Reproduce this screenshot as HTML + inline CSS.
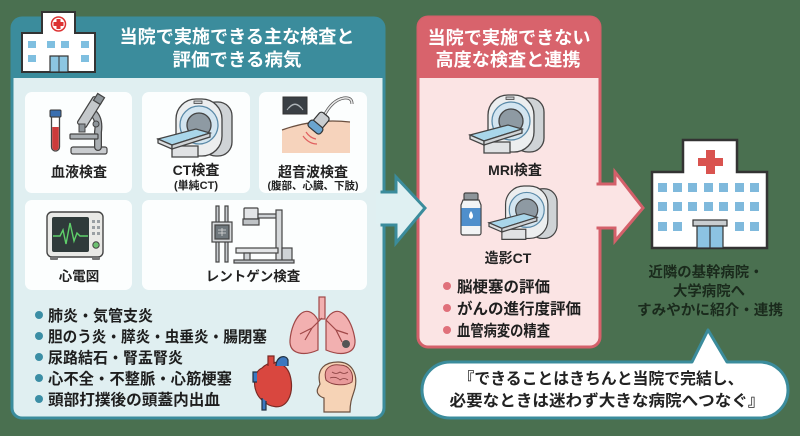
<!DOCTYPE html>
<html><head><meta charset="utf-8">
<style>
html,body{margin:0;padding:0;background:#4a7050;}
svg{display:block}
text{font-family:"Liberation Sans","Noto Sans CJK JP",sans-serif;font-weight:bold;}
</style></head>
<body>
<svg width="800" height="436" viewBox="0 0 800 436" xmlns="http://www.w3.org/2000/svg">
<rect width="800" height="436" fill="#4a7050"/>

<!-- ===== LEFT PANEL ===== -->
<rect x="12" y="18" width="372" height="400" rx="10" fill="#e0eff1" stroke="#3b8c9c" stroke-width="3"/>
<path d="M12,78 V28 a10,10 0 0 1 10,-10 H374 a10,10 0 0 1 10,10 V78 Z" fill="#3b8c9c"/>
<text x="237" y="43" text-anchor="middle" font-size="18" fill="#fff" textLength="235" lengthAdjust="spacingAndGlyphs">当院で実施できる主な検査と</text>
<text x="237" y="66" text-anchor="middle" font-size="18" fill="#fff" textLength="129" lengthAdjust="spacingAndGlyphs">評価できる病気</text>

<!-- hospital icon left -->
<path d="M22,33 H42 V12 H75 V33 H95 V72 H22 Z" fill="#fff" stroke="#333" stroke-width="2"/>
<circle cx="58.5" cy="24" r="7" fill="#fff" stroke="#d33" stroke-width="1.5"/>
<rect x="56.5" y="19" width="4" height="10" fill="#d33"/>
<rect x="53.5" y="22" width="10" height="4" fill="#d33"/>
<g fill="#7fbfe0">
<rect x="28" y="41" width="8" height="7"/><rect x="47" y="41" width="8" height="7"/><rect x="61" y="41" width="8" height="7"/><rect x="81" y="41" width="8" height="7"/>
<rect x="28" y="55" width="8" height="7"/><rect x="81" y="55" width="8" height="7"/>
<rect x="50" y="56" width="18" height="16" fill="#8cc6e2" stroke="#333" stroke-width="1.2"/>
</g>
<line x1="59" y1="56" x2="59" y2="72" stroke="#333" stroke-width="1"/>

<!-- cards -->
<rect x="25" y="92" width="107" height="101" rx="7" fill="#fcfefe"/>
<rect x="142" y="92" width="108" height="101" rx="7" fill="#fcfefe"/>
<rect x="259" y="92" width="108" height="101" rx="7" fill="#fcfefe"/>
<rect x="25" y="200" width="107" height="90" rx="7" fill="#fcfefe"/>
<rect x="142" y="200" width="225" height="90" rx="7" fill="#fcfefe"/>

<!-- blood tube -->
<rect x="50" y="110" width="11" height="7" rx="1" fill="#3a6fb0" stroke="#333" stroke-width="1"/>
<path d="M51.5,117 V147 a4,4 0 0 0 8,0 V117 Z" fill="#fff" stroke="#444" stroke-width="1.3"/>
<path d="M52.2,127 V147 a3.3,3.3 0 0 0 6.6,0 V127 Z" fill="#cc3b3b"/>
<!-- microscope -->
<rect x="71" y="147" width="36" height="7" rx="2" fill="#c9cccf" stroke="#444" stroke-width="1.2"/>
<path d="M98,147 V132 Q100,118 92,112" fill="none" stroke="#444" stroke-width="8" stroke-linecap="round"/>
<path d="M98,147 V132 Q100,118 92,112" fill="none" stroke="#a9aeb2" stroke-width="5.5" stroke-linecap="round"/>
<rect x="70" y="134" width="28" height="5" rx="1" fill="#a9aeb2" stroke="#444" stroke-width="1.2"/>
<rect x="-5" y="-17" width="10" height="32" rx="2" transform="translate(89,113) rotate(32)" fill="#c4c8cb" stroke="#444" stroke-width="1.2"/>
<rect x="-4" y="-4" width="8" height="8" transform="translate(99,99) rotate(32)" fill="#8e959a" stroke="#444" stroke-width="1.2"/>
<rect x="79" y="124" width="6" height="8" fill="#8e959a" stroke="#444" stroke-width="1"/>
<circle cx="96" cy="124" r="3" fill="#8e959a" stroke="#444" stroke-width="1"/>
<text x="79" y="177" text-anchor="middle" font-size="14" fill="#222">血液検査</text>

<!-- CT scanner -->
<g transform="translate(158,99)" stroke="#444" stroke-width="1.3">
<rect x="44" y="3" width="30" height="54" rx="14" fill="#cfd3d6"/>
<rect x="18" y="0" width="46" height="57" rx="20" fill="#eceeef"/>
<circle cx="41" cy="26" r="19" fill="#d3e5f0" stroke="#5a8aa8"/>
<circle cx="41" cy="26" r="12" fill="#8e9aa3"/>
<rect x="36" y="2" width="8" height="2.5" fill="#c9cdd0" stroke-width="0.8"/>
<polygon points="14,47 40,47 40,58 14,58" fill="#e0e2e4"/>
<polygon points="0,40 38,30 52,34 14,46" fill="#a9d6ea"/>
<polygon points="0,40 14,46 14,50 0,44" fill="#dcdfe1"/>
<polygon points="14,46 52,34 52,38 14,50" fill="#cfd3d6"/>
</g>
<text x="196" y="175" text-anchor="middle" font-size="14" fill="#222">CT検査</text>
<text x="196" y="189" text-anchor="middle" font-size="11" fill="#222">(単純CT)</text>

<!-- ultrasound -->
<rect x="283" y="97" width="24" height="17" fill="#3a3f44" stroke="#333" stroke-width="1"/>
<path d="M289,108 Q295,101 301,108 M287,110 Q295,98 303,110" fill="none" stroke="#aeb4b8" stroke-width="1"/>
<path d="M282,130 Q315,118 350,122 V153 H282 Z" fill="#f6d3bc"/>
<path d="M282,130 Q315,118 350,122" fill="none" stroke="#6b5040" stroke-width="1.2"/>
<path d="M306,132 q4,6 10,7 M303,136 q6,8 14,8" fill="none" stroke="#e06060" stroke-width="1.2"/>
<path d="M324,116 Q332,100 344,98 Q352,97 352,104" fill="none" stroke="#555" stroke-width="3"/>
<path d="M324,116 Q332,100 344,98 Q352,97 352,104" fill="none" stroke="#e8e8e8" stroke-width="1.6"/>
<g transform="translate(318,124) rotate(40)" stroke="#333" stroke-width="1.2">
<rect x="-6" y="-12" width="12" height="14" rx="3" fill="#c9cdd0"/>
<rect x="-8" y="0" width="16" height="8" rx="3" fill="#6aa4cf"/>
</g>
<text x="313" y="177" text-anchor="middle" font-size="14" fill="#222">超音波検査</text>
<text x="313" y="189" text-anchor="middle" font-size="10.5" fill="#222">(腹部、心臓、下肢)</text>

<!-- ECG -->
<rect x="47" y="212" width="56" height="45" rx="5" fill="#e9e9e6" stroke="#444" stroke-width="1.4"/>
<rect x="52" y="217" width="37" height="35" rx="2" fill="#2f3a3a"/>
<polyline points="53,236 60,236 63,230 66,244 70,223 74,241 77,233 80,236 88,236" fill="none" stroke="#5fd06a" stroke-width="1.4"/>
<g fill="#9aa0a4"><rect x="92" y="220" width="3" height="3"/><rect x="97" y="220" width="3" height="3"/><rect x="92" y="226" width="3" height="3"/><rect x="97" y="226" width="3" height="3"/><rect x="92" y="232" width="3" height="3"/><rect x="97" y="232" width="3" height="3"/></g>
<circle cx="96" cy="245" r="3.2" fill="#6cc070" stroke="#444" stroke-width="1"/>
<rect x="50" y="257" width="8" height="3" rx="1" fill="#777"/><rect x="92" y="257" width="8" height="3" rx="1" fill="#777"/>
<text x="79" y="281" text-anchor="middle" font-size="13.5" fill="#222">心電図</text>

<!-- X-ray -->
<g stroke="#444" stroke-width="1.2">
<rect x="216" y="206" width="3" height="56" fill="#c9cdd0"/>
<rect x="225" y="206" width="3" height="56" fill="#c9cdd0"/>
<rect x="212" y="222" width="20" height="20" fill="#d6d9db"/>
<rect x="215" y="225" width="14" height="14" fill="#6f777c"/>
<rect x="244" y="208" width="14" height="11" rx="1" fill="#e3e5e7"/>
<rect x="243" y="219" width="16" height="6" fill="#bfc3c6"/>
<rect x="258" y="214" width="20" height="4" fill="#cfd3d6"/>
<rect x="276" y="210" width="6" height="52" fill="#d6d9db"/>
<rect x="282" y="248" width="10" height="14" fill="#cfd3d6"/>
<rect x="236" y="248" width="42" height="5" fill="#e3e5e7"/>
<rect x="244" y="253" width="6" height="8" fill="#cfd3d6"/>
<rect x="234" y="260" width="60" height="3" fill="#bfc3c6"/>
</g>
<path d="M218,230 h8 M218,233 h8 M222,228 v8" stroke="#ddd" stroke-width="0.8"/>
<text x="253" y="281" text-anchor="middle" font-size="13.5" fill="#222">レントゲン検査</text>

<!-- bullets left -->
<g fill="#3b8ea5"><circle cx="39" cy="315" r="4"/><circle cx="39" cy="336" r="4"/><circle cx="39" cy="357" r="4"/><circle cx="39" cy="378" r="4"/><circle cx="39" cy="399" r="4"/></g>
<g font-size="15.5" fill="#1e1e1e">
<text x="48" y="321" textLength="105" lengthAdjust="spacingAndGlyphs">肺炎・気管支炎</text>
<text x="48" y="342" textLength="219" lengthAdjust="spacingAndGlyphs">胆のう炎・膵炎・虫垂炎・腸閉塞</text>
<text x="48" y="363" textLength="135" lengthAdjust="spacingAndGlyphs">尿路結石・腎盂腎炎</text>
<text x="48" y="384" textLength="184" lengthAdjust="spacingAndGlyphs">心不全・不整脈・心筋梗塞</text>
<text x="48" y="405" textLength="172" lengthAdjust="spacingAndGlyphs">頭部打撲後の頭蓋内出血</text>
</g>

<!-- lungs -->
<g stroke="#a04848" stroke-width="1.2">
<rect x="319" y="297" width="6" height="22" fill="#f2b0b0"/>
<path d="M318,320 C306,300 292,318 290,340 C289,355 305,356 318,350 Z" fill="#f2b0b0"/>
<path d="M326,320 C338,300 352,318 355,340 C356,355 340,356 326,350 Z" fill="#f2b0b0"/>
<path d="M322,318 L312,328 L305,340 M312,328 L300,334 M326,320 L336,330 L342,342 M336,330 L348,334" fill="none"/>
</g>
<circle cx="346" cy="344" r="4" fill="#555"/>
<!-- heart -->
<path d="M262,368 C252,372 252,392 262,400 C270,408 282,410 288,400 C294,390 292,372 284,366 C278,360 268,362 262,368 Z" fill="#d9473f" stroke="#7a2a25" stroke-width="1.2"/>
<path d="M268,366 V356 h6 V364" fill="#d9473f" stroke="#7a2a25" stroke-width="1.2"/>
<path d="M276,366 C276,356 286,354 288,360 V366" fill="#3c78c0" stroke="#234" stroke-width="1.2"/>
<path d="M257,372 h-4 v10 h4" fill="#3c78c0" stroke="#234" stroke-width="1.2"/>
<path d="M262,398 v12 h4 v-9" fill="#3c78c0" stroke="#234" stroke-width="1.2"/>
<!-- head + brain -->
<path d="M324,412 V398 C318,396 316,392 318,388 L320,384 C316,368 326,362 338,362 C352,362 358,374 355,388 C353,396 350,400 350,412 Z" fill="#f6d3b6" stroke="#6b5040" stroke-width="1.2"/>
<path d="M326,380 C322,366 334,364 340,365 C350,365 354,374 352,382 C346,386 332,386 326,380 Z" fill="#e89a9a" stroke="#8a4040" stroke-width="1"/>
<path d="M332,372 q4,3 8,0 q4,3 8,0 M330,378 q6,-2 10,2 q4,-3 8,0" fill="none" stroke="#8a4040" stroke-width="0.8"/>

<!-- ===== MIDDLE PANEL ===== -->
<rect x="418" y="17" width="182" height="330" rx="10" fill="#fbe4e4" stroke="#d4606a" stroke-width="3"/>
<path d="M418,78 V27 a10,10 0 0 1 10,-10 H590 a10,10 0 0 1 10,10 V78 Z" fill="#d8636c"/>
<text x="509" y="44" text-anchor="middle" font-size="18" fill="#fff" textLength="163" lengthAdjust="spacingAndGlyphs">当院で実施できない</text>
<text x="508" y="66" text-anchor="middle" font-size="18" fill="#fff" textLength="145" lengthAdjust="spacingAndGlyphs">高度な検査と連携</text>

<!-- MRI -->
<g transform="translate(470,95)" stroke="#444" stroke-width="1.3">
<rect x="44" y="3" width="30" height="54" rx="14" fill="#cfd3d6"/>
<rect x="18" y="0" width="46" height="57" rx="20" fill="#eceeef"/>
<circle cx="41" cy="26" r="19" fill="#d3e5f0" stroke="#5a8aa8"/>
<circle cx="41" cy="26" r="12" fill="#8e9aa3"/>
<rect x="36" y="2" width="8" height="2.5" fill="#c9cdd0" stroke-width="0.8"/>
<polygon points="14,47 40,47 40,58 14,58" fill="#e0e2e4"/>
<polygon points="0,40 38,30 52,34 14,46" fill="#a9d6ea"/>
<polygon points="0,40 14,46 14,50 0,44" fill="#dcdfe1"/>
<polygon points="14,46 52,34 52,38 14,50" fill="#cfd3d6"/>
</g>
<text x="515" y="175" text-anchor="middle" font-size="14" fill="#222">MRI検査</text>

<!-- bottle -->
<rect x="464" y="193" width="14" height="7" rx="1.5" fill="#8e959a" stroke="#444" stroke-width="1.2"/>
<path d="M463,200 h16 l2,5 v28 a2,2 0 0 1 -2,2 h-16 a2,2 0 0 1 -2,-2 v-28 Z" fill="#f2f4f5" stroke="#444" stroke-width="1.2"/>
<rect x="461.5" y="208" width="19" height="18" fill="#4f8fcc"/>
<path d="M471,211 q-4,6 0,8 q4,-2 0,-8 Z" fill="#fff"/>
<!-- contrast CT -->
<g transform="translate(489,186) scale(0.92)" stroke="#444" stroke-width="1.3">
<rect x="44" y="3" width="30" height="54" rx="14" fill="#cfd3d6"/>
<rect x="18" y="0" width="46" height="57" rx="20" fill="#eceeef"/>
<circle cx="41" cy="26" r="19" fill="#d3e5f0" stroke="#5a8aa8"/>
<circle cx="41" cy="26" r="12" fill="#8e9aa3"/>
<polygon points="14,47 40,47 40,58 14,58" fill="#e0e2e4"/>
<polygon points="0,40 38,30 52,34 14,46" fill="#a9d6ea"/>
<polygon points="0,40 14,46 14,50 0,44" fill="#dcdfe1"/>
<polygon points="14,46 52,34 52,38 14,50" fill="#cfd3d6"/>
</g>
<text x="508" y="263" text-anchor="middle" font-size="14" fill="#222">造影CT</text>

<g fill="#e0707a"><circle cx="447" cy="286" r="4"/><circle cx="447" cy="308" r="4"/><circle cx="447" cy="330" r="4"/></g>
<g font-size="15.5" fill="#1e1e1e">
<text x="457" y="292" textLength="93" lengthAdjust="spacingAndGlyphs">脳梗塞の評価</text>
<text x="457" y="314" textLength="124" lengthAdjust="spacingAndGlyphs">がんの進行度評価</text>
<text x="457" y="336" textLength="93" lengthAdjust="spacingAndGlyphs">血管病変の精査</text>
</g>

<!-- teal arrow -->
<polygon points="382,192 396,192 396,177 425,208 396,243 396,225 382,225" fill="#dff0f2" stroke="#3b8c9c" stroke-width="3" stroke-linejoin="miter"/>
<rect x="376" y="193.5" width="8" height="30" fill="#dff0f2"/>
<!-- pink arrow -->
<polygon points="598,184 615,184 615,172 643,208 615,241 615,228 598,228" fill="#fbe4e4" stroke="#d4606a" stroke-width="3"/>
<rect x="592" y="185.5" width="8" height="41" fill="#fbe4e4"/>

<!-- ===== RIGHT HOSPITAL ===== -->
<path d="M652,172 H683 V140 H737 V172 H767 V248 H652 Z" fill="#fff" stroke="#333" stroke-width="2.5"/>
<rect x="706" y="150" width="9" height="24" fill="#d9534f"/>
<rect x="698" y="158" width="25" height="8" fill="#d9534f"/>
<g fill="#7fb9dc">
<rect x="658" y="183" width="9" height="9"/><rect x="673" y="183" width="9" height="9"/><rect x="688" y="183" width="9" height="9"/><rect x="704" y="183" width="9" height="9"/><rect x="719" y="183" width="9" height="9"/><rect x="735" y="183" width="9" height="9"/><rect x="750" y="183" width="9" height="9"/>
<rect x="658" y="202" width="9" height="9"/><rect x="673" y="202" width="9" height="9"/><rect x="688" y="202" width="9" height="9"/><rect x="704" y="202" width="9" height="9"/><rect x="719" y="202" width="9" height="9"/><rect x="735" y="202" width="9" height="9"/><rect x="750" y="202" width="9" height="9"/>
<rect x="658" y="222" width="9" height="9"/><rect x="673" y="222" width="9" height="9"/><rect x="735" y="222" width="9" height="9"/><rect x="750" y="222" width="9" height="9"/>
</g>
<rect x="693" y="220" width="34" height="6" fill="#c9cdd0" stroke="#333" stroke-width="1.2"/>
<rect x="697" y="226" width="26" height="22" fill="#8cc3e2" stroke="#333" stroke-width="1.2"/>
<line x1="710" y1="226" x2="710" y2="248" stroke="#333" stroke-width="1.2"/>

<g font-size="14.5" fill="#1a2a1c" text-anchor="middle">
<text x="706" y="277" textLength="115" lengthAdjust="spacingAndGlyphs">近隣の基幹病院・</text>
<text x="709" y="296" textLength="72" lengthAdjust="spacingAndGlyphs">大学病院へ</text>
<text x="710" y="315" textLength="146" lengthAdjust="spacingAndGlyphs">すみやかに紹介・連携</text>
</g>

<!-- speech bubble -->
<path d="M450,362 H692 L708,330 L727,362 H760 a28,28 0 0 1 0,56 H450 a28,28 0 0 1 0,-56 Z" fill="#fff" stroke="#3b8c9c" stroke-width="3" stroke-linejoin="round"/>
<g font-size="16" fill="#222" text-anchor="middle">
<text x="601" y="384" textLength="285" lengthAdjust="spacingAndGlyphs">『できることはきちんと当院で完結し、</text>
<text x="607" y="406" textLength="315" lengthAdjust="spacingAndGlyphs">必要なときは迷わず大きな病院へつなぐ』</text>
</g>
</svg>
</body></html>
